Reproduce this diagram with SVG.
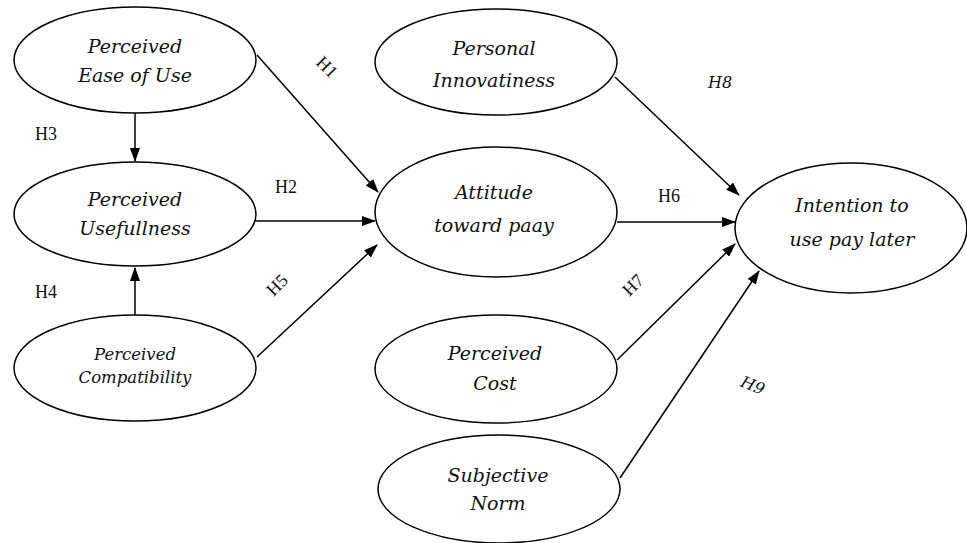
<svg xmlns="http://www.w3.org/2000/svg" width="967" height="543" viewBox="0 0 967 543">
<style>
text{font-family:'Liberation Serif','Times New Roman',serif}
.n{fill:#fff;stroke:#000;stroke-width:1.5}
.t{font-family:'DejaVu Serif','Liberation Serif',serif;font-style:italic;font-size:19px;fill:#111;text-anchor:middle}
.s{font-size:16.5px}
.h{font-size:18px;fill:#111}
.hi{font-family:'DejaVu Serif','Liberation Serif',serif;font-style:italic;font-size:16px}
.c line{stroke:#000;stroke-width:1.5;marker-end:url(#a)}
</style>
<defs>
<marker id="a" viewBox="0 0 14 10" refX="13" refY="5" markerWidth="14" markerHeight="10" markerUnits="userSpaceOnUse" orient="auto">
<path d="M0,0 L14,5 L0,10 z" fill="#000"/>
</marker>
</defs>
<rect width="967" height="543" fill="#fff"/>
<g id="connectors" class="c">
<line x1="257" y1="55" x2="378" y2="192"/>
<line x1="135" y1="113" x2="135" y2="161"/>
<line x1="255" y1="221" x2="375" y2="221"/>
<line x1="135" y1="315" x2="135" y2="268"/>
<line x1="257" y1="357" x2="377" y2="245"/>
<line x1="615" y1="77" x2="739" y2="195"/>
<line x1="617" y1="222" x2="735" y2="222"/>
<line x1="617" y1="360" x2="735" y2="244"/>
<line x1="620" y1="478" x2="759" y2="271"/>
</g>
<g id="labels">
<text class="h" transform="translate(327,67) rotate(45)" text-anchor="middle" dy="6">H1</text>
<text class="h" x="275" y="193">H2</text>
<text class="h" x="35" y="140">H3</text>
<text class="h" x="35" y="298">H4</text>
<text class="h" transform="translate(277,285) rotate(-45)" text-anchor="middle" dy="6">H5</text>
<text class="h" x="658" y="202">H6</text>
<text class="h" transform="translate(633,285) rotate(-45)" text-anchor="middle" dy="6">H7</text>
<text class="h hi" x="708" y="88">H8</text>
<text class="h hi" transform="translate(753,385) rotate(22)" text-anchor="middle" dy="6">H9</text>
</g>
<g id="peou">
<ellipse class="n" cx="135" cy="60" rx="121" ry="53"/>
<text class="t" x="135" y="53">Perceived</text>
<text class="t" x="135" y="82">Ease of Use</text>
</g>
<g id="pu">
<ellipse class="n" cx="135" cy="214" rx="121" ry="52"/>
<text class="t" x="135" y="206">Perceived</text>
<text class="t" x="135" y="235">Usefullness</text>
</g>
<g id="pc">
<ellipse class="n" cx="135" cy="368" rx="121" ry="53"/>
<text class="t s" x="135" y="360">Perceived</text>
<text class="t s" x="135" y="383">Compatibility</text>
</g>
<g id="pi">
<ellipse class="n" cx="496" cy="62" rx="121" ry="53"/>
<text class="t" x="494" y="55">Personal</text>
<text class="t" x="494" y="87">Innovatiness</text>
</g>
<g id="att">
<ellipse class="n" cx="496" cy="212" rx="121" ry="65"/>
<text class="t" x="494" y="199">Attitude</text>
<text class="t" x="494" y="232">toward paay</text>
</g>
<g id="int">
<ellipse class="n" cx="851" cy="228" rx="116" ry="65"/>
<text class="t" x="852" y="212">Intention to</text>
<text class="t" x="852" y="246">use pay later</text>
</g>
<g id="cost">
<ellipse class="n" cx="496" cy="369" rx="121" ry="54"/>
<text class="t" x="495" y="360">Perceived</text>
<text class="t" x="495" y="390">Cost</text>
</g>
<g id="sn">
<ellipse class="n" cx="499" cy="489" rx="121" ry="54"/>
<text class="t" x="498" y="482">Subjective</text>
<text class="t" x="498" y="510">Norm</text>
</g>
</svg>
